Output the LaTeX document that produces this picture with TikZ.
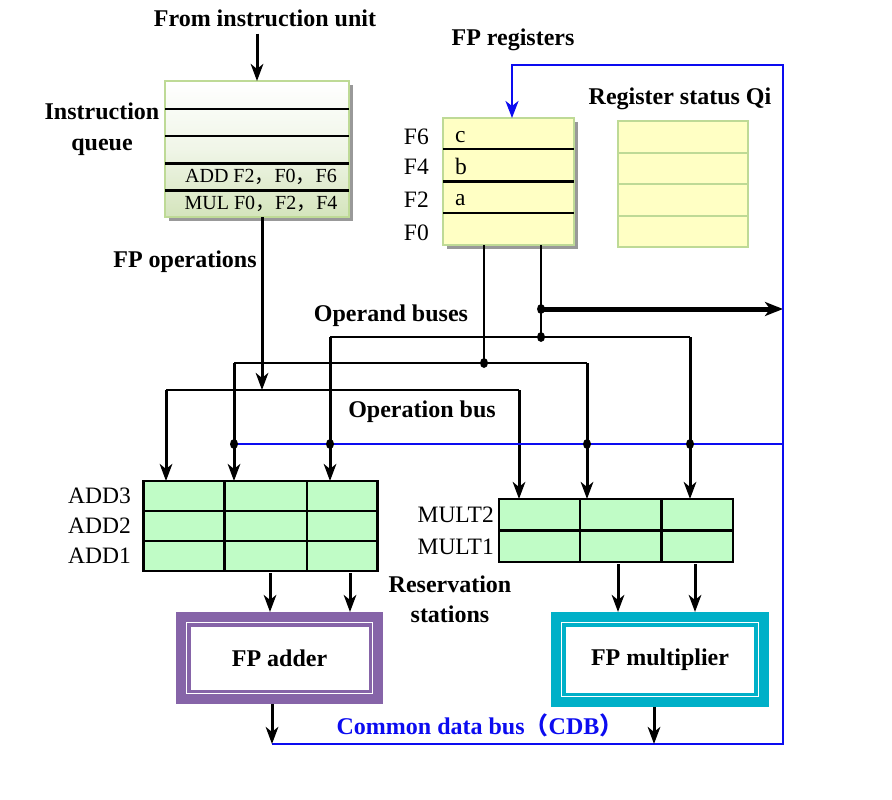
\documentclass[tikz,border=0pt]{standalone}
\usepackage{fontspec}
\setmainfont{Liberation Serif}
\newfontfamily\cjk{Noto Sans CJK SC}
\usepackage{tikz}
\usetikzlibrary{arrows.meta}
\usetikzlibrary{shapes.geometric}
\definecolor{qborder}{RGB}{190,218,150}
\definecolor{qgreen}{RGB}{212,228,188}
\definecolor{regyellow}{RGB}{255,255,196}
\definecolor{rsgreen}{RGB}{192,252,198}
\definecolor{addpurple}{RGB}{134,100,168}
\definecolor{mulcyan}{RGB}{0,176,200}
\definecolor{cdbblue}{RGB}{12,12,240}
\tikzstyle{lbl}=[font=\bfseries\fontsize{24}{31}\selectfont, align=center, inner sep=0pt]
\tikzstyle{txt}=[font=\fontsize{23.5}{28}\selectfont, inner sep=0pt]
\tikzstyle{qtxt}=[font=\fontsize{20}{24}\selectfont, inner sep=0pt]
\tikzstyle{shadowed}=[preaction={fill=black!40, transform canvas={xshift=4pt, yshift=-4pt}}]
\tikzstyle{queue}=[rectangle, draw=qborder, line width=2pt, top color=white, bottom color=qgreen, middle color=qgreen!35, minimum width=184pt, minimum height=136pt, inner sep=0pt, outer sep=0pt, shadowed]
\tikzstyle{regfile}=[rectangle, draw=qborder, line width=2pt, fill=regyellow, inner sep=0pt, outer sep=0pt]
\tikzstyle{rstable}=[rectangle, draw, line width=2.3pt, fill=rsgreen, inner sep=0pt, outer sep=0pt]
\tikzstyle{grid}=[line width=2.3pt]
\tikzstyle{bus}=[line width=2.7pt]
\tikzstyle{edge}=[line width=3pt, -{Stealth[length=17pt, width=12.5pt, inset=5pt]}]
\tikzstyle{heavy}=[line width=5pt, -{Stealth[length=18pt, width=14pt, inset=5pt]}]
\tikzstyle{cdb}=[line width=2.5pt, draw=cdbblue]
\tikzstyle{junction}=[ellipse, fill, inner sep=0pt, minimum width=8pt, minimum height=10pt]
\tikzset{fpunit/.style={rectangle, draw=#1, line width=10pt, fill=white, outer sep=5pt, lbl}}

\begin{document}
\begin{tikzpicture}[x=1pt, y=-1pt]
	\fill[white] (0,0) rectangle (892,800);
	\useasboundingbox (0,0) rectangle (892,800);
	% instruction queue
	\draw (265,18) node[lbl] (lsrc) {From instruction unit};
	\draw (257,149) node[queue] (queue) {};
	\foreach \yy in {109,136,163.5,190.5}
		\draw[grid] (queue.west |- 0,\yy) -- (queue.east |- 0,\yy);
	\draw (102,129) node[lbl] (lqueue) {Instruction\\queue};
	\draw (261,177) node[qtxt] (qadd) {ADD F2{\cjk，}F0{\cjk，}F6};
	\draw (261,204) node[qtxt] (qmul) {MUL F0{\cjk，}F2{\cjk，}F4};
	\draw[edge, shorten <=7pt] (lsrc.south -| queue.north) -- (queue.north);
	\draw (185,262) node[lbl] (lfpops) {FP operations};
	% registers
	\draw (513,40) node[lbl] (lfpreg) {FP registers};
	\draw (508.5,181.5) node[regfile, minimum width=131pt, minimum height=127pt, shadowed] (freg) {};
	\foreach \yy in {149,181.5,213}
		\draw[grid] (freg.west |- 0,\yy) -- (freg.east |- 0,\yy);
	\foreach \n/\yy in {F6/137,F4/167,F2/200,F0/233}
		\draw (429,\yy) node[txt, anchor=east] (r\n) {\n};
	\foreach \v/\yy in {c/137,b/166,a/200}
		\draw (455,\yy) node[txt, anchor=west] (v\v) {\v};
	\draw (680,99) node[lbl] (lqi) {Register status Qi};
	\draw (683,184) node[regfile, minimum width=130pt, minimum height=126pt] (qi) {};
	\foreach \yy in {152.5,184,215.5}
		\draw[qborder, line width=2pt] (qi.west |- 0,\yy) -- (qi.east |- 0,\yy);
	% reservation stations
	\draw (260.6,526) node[rstable, minimum width=234pt, minimum height=90pt] (addrs) {};
	\foreach \xx in {224.4,307}
		\draw[grid] (\xx,0 |- addrs.north) -- (\xx,0 |- addrs.south);
	\foreach \yy in {511,541}
		\draw[grid] (addrs.west |- 0,\yy) -- (addrs.east |- 0,\yy);
	\foreach \n/\yy in {ADD3/496,ADD2/526,ADD1/556}
		\draw (131,\yy) node[txt, anchor=east] (l\n) {\n};
	\draw (616,530.5) node[rstable, minimum width=234pt, minimum height=63pt] (mulrs) {};
	\foreach \xx in {580,661.5}
		\draw[grid] (\xx,0 |- mulrs.north) -- (\xx,0 |- mulrs.south);
	\draw[grid] (mulrs.west) -- (mulrs.east);
	\foreach \n/\yy in {MULT2/515,MULT1/547}
		\draw (494,\yy) node[txt, anchor=east] (l\n) {\n};
	\draw (450,599) node[lbl, font=\bfseries\fontsize{24}{30}\selectfont] (lrs) {Reservation\\stations};
	% functional units
	\draw (279.5,658) node[fpunit=addpurple, minimum width=197pt, minimum height=82pt] (adder) {FP adder};
	\draw[addpurple, line width=3.5pt] ([shift={(12.75,12.75)}]adder.north west) rectangle ([shift={(-12.75,-12.75)}]adder.south east);
	\draw (660,659.5) node[fpunit=mulcyan, minimum width=207.6pt, minimum height=85pt] (mult) {FP multiplier};
	\draw[mulcyan, line width=3.5pt] ([shift={(12.75,12.75)}]mult.north west) rectangle ([shift={(-12.75,-12.75)}]mult.south east);
	\foreach \xx in {270,350}
		\draw[edge, shorten <=2pt] (\xx,0 |- addrs.south) -- (\xx,0 |- adder.north);
	\foreach \xx in {618,695}
		\draw[edge, shorten <=2pt] (\xx,0 |- mulrs.south) -- (\xx,0 |- mult.north);
	% buses
	\coordinate (opl) at (166,390);
	\coordinate (opr) at (519,390);
	\coordinate (opin) at (262,390);
	\coordinate (aL) at (234,363);
	\coordinate (aR) at (587,363);
	\coordinate (bL) at (330,337);
	\coordinate (bR) at (690,337);
	\coordinate (ja) at (484,363);
	\coordinate (jb) at (541,337);
	\coordinate (jc) at (541,309);
	\coordinate (cdbL) at (234,444);
	\coordinate (cdbR) at (783,444);
	\coordinate (cdbadd) at (272,744);
	\coordinate (cdbmul) at (654,744);
	\coordinate (cdbBR) at (783,744);
	\coordinate (cdbTR) at (783,65);
	\coordinate (cdbTL) at (512,65);
	\draw[bus] (opl) -- (opr);
	\draw[edge] (opin |- queue.south) -- (opin);
	\draw[edge] (opl) -- (opl |- addrs.north);
	\draw[edge] (opr) -- (opr |- mulrs.north);
	\draw[bus] (aL) -- (aR);
	\draw[bus] (bL) -- (bR);
	\draw[bus] (ja |- freg.south) -- (ja);
	\draw[bus] (jb |- freg.south) -- (jb);
	\foreach \c in {aL,bL}
		\draw[edge] (\c) -- (\c |- addrs.north);
	\foreach \c in {aR,bR}
		\draw[edge] (\c) -- (\c |- mulrs.north);
	\draw[heavy] (jc) -- (cdbTR |- jc);
	\draw (391,316) node[lbl] (loperand) {Operand buses};
	\draw (422,412) node[lbl] (lopbus) {Operation bus};
	% common data bus
	\draw[cdb] (cdbL) -- (cdbR);
	\draw[cdb, -{Stealth[length=17pt, width=13pt, inset=5pt]}] (cdbadd) -- (cdbBR) -- (cdbTR) -- (cdbTL) -- (cdbTL |- freg.north);
	\draw[edge] (cdbadd |- adder.south) -- (cdbadd);
	\draw[edge] (cdbmul |- mult.south) -- (cdbmul);
	\draw (480,725) node[lbl, text=cdbblue] (lcdb) {Common data bus{\cjk（}CDB{\cjk）}};
	% junction dots
	\foreach \j/\c in {ja/ja,jb/jb,jc/jc,d1/cdbL}
		\draw (\c) node[junction] (dot\j) {};
	\foreach \c [count=\i] in {bL,aR,bR}
		\draw (\c |- cdbL) node[junction] (dotc\i) {};
\end{tikzpicture}
\end{document}
